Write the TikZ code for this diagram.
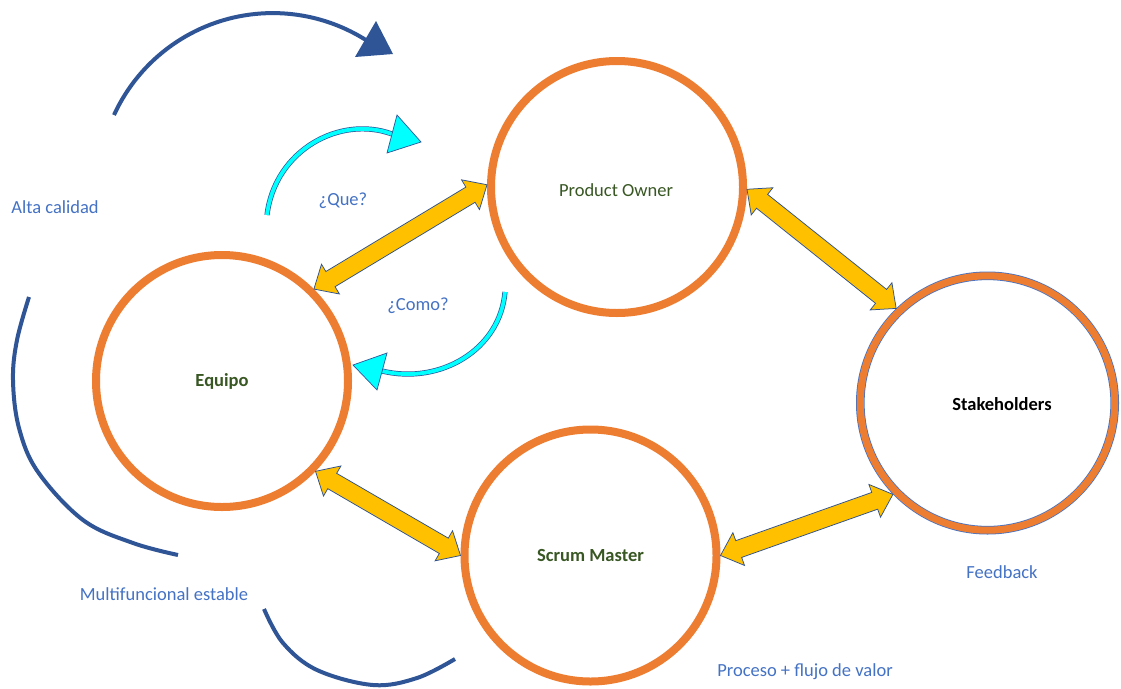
\documentclass[tikz,border=0pt]{standalone}
\usepackage{fontspec}
\setmainfont{Carlito}
\usetikzlibrary{shapes.arrows,calc}

\definecolor{ringorange}{HTML}{ED7D31}
\definecolor{flowyellow}{HTML}{FFC000}
\definecolor{edgeblue}{HTML}{2F528F}
\definecolor{arcblue}{HTML}{2F5597}
\definecolor{labelblue}{HTML}{4472C4}
\definecolor{rolegreen}{HTML}{385723}
\definecolor{askcyan}{HTML}{00FFFF}

\newcommand\labelsize{\fontsize{18.5}{22}\selectfont}

\tikzset{
  x=1pt, y=-1pt,
  role/.style={circle, draw=ringorange, line width=8pt, minimum size=252pt,
    inner sep=0pt, outer sep=4pt, text=rolegreen, font=\labelsize},
  stake/.style={circle, draw=labelblue, double=ringorange, line width=0.8pt,
    double distance=7pt, minimum size=254.4pt, inner sep=0pt, outer sep=4.3pt},
  note/.style={text=labelblue, font=\labelsize, inner sep=0pt},
  flow/.style={double arrow, draw=edgeblue, fill=flowyellow, line width=0.75pt,
    inner xsep=0pt, inner ysep=8.5pt, minimum width=34pt,
    double arrow head extend=8.5pt, double arrow tip angle=84, outer sep=0pt},
  bigarc/.style={draw=arcblue, line width=4pt},
  bighead/.style={fill=arcblue},
  askshaft/.style={draw=arcblue, double=askcyan, line width=0.7pt, double distance=3.8pt},
  askhead/.style={draw=arcblue, fill=askcyan, line width=0.7pt, line join=miter},
}

% two-headed block arrow between two points
\newcommand\twoway[2]{%
  \path let \p1=(#1), \p2=(#2),
    \n1={atan2(\y2-\y1,\x2-\x1)},
    \n2={veclen(\x2-\x1,\y2-\y1)} in
    node[flow, minimum height=\n2, rotate=\n1] at ($(\p1)!0.5!(\p2)$) {};}

\begin{document}
\begin{tikzpicture}
\fill[white] (0,0) rectangle (1121,688);
\useasboundingbox (0,0) rectangle (1121,688);

% roles
\node[role] (po) at (617,187) {};
\node[text=rolegreen, font=\labelsize, inner sep=0pt] (potext) at (616,190) {Product Owner};
\node[role, font=\labelsize\bfseries] (eq) at (222,381) {Equipo};
\node[role, font=\labelsize\bfseries] (sm) at (590.5,555.5) {Scrum Master};
\node[stake] (sh) at (987.5,403) {};
\node[font=\labelsize\bfseries, inner sep=0pt] (shtext) at (1002,404) {Stakeholders};

% communication flows
\twoway{eq.45}{po.179}
\twoway{po.-1}{sh.134.5}
\twoway{eq.-44.7}{sm.180}
\twoway{sm.0}{sh.224.8}

% labels
\node[note] (alta) at (55,207) {Alta calidad};
\node[note] (que) at (343,201) {¿Que?};
\node[note] (como) at (418,306) {¿Como?};
\node[note] (multi) at (164,594) {Multifuncional estable};
\node[note] (feed) at (1002,572) {Feedback};
\node[note] (proc) at (805,672) {Proceso + flujo de valor};

% large arc with arrow head
\coordinate (a1s) at (114,115);
\draw[bigarc] (a1s) arc[start angle=-155.4, end angle=-57.7, radius=174.6] coordinate (a1e);
\fill[bighead] (376,21) -- (393,54) -- (355,57) -- cycle;

% open arcs
\draw[bigarc] plot[smooth, tension=0.6] coordinates
  {(29,297) (17,340) (13,380) (19,428) (38,472) (83,520) (133,543) (178,555)};
\draw[bigarc] plot[smooth, tension=0.6] coordinates
  {(264,609) (283,643) (317,670) (373,685) (417,678) (455,659)};

% question arrows
\coordinate (q1s) at (267,215);
\coordinate (q1e) at (392,134);
\draw[askshaft] (q1s) .. controls (275,150) and (340,115) .. (q1e);
\draw[askhead] (397,115) -- (421,142) -- (387,153) -- cycle;

\coordinate (q2s) at (505,292);
\coordinate (q2e) at (382,371);
\draw[askshaft] (q2s) .. controls (500,350) and (440,385) .. (q2e);
\draw[askhead] (387,353) -- (353,365) -- (377,390) -- cycle;
\end{tikzpicture}
\end{document}
